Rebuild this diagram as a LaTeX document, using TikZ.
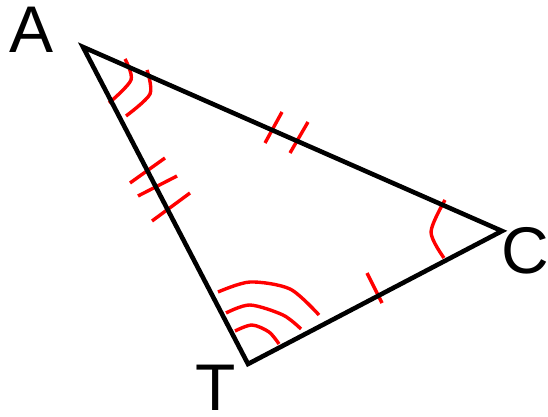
\documentclass[tikz,border=0pt]{standalone}
\usepackage{fontspec}
\setmainfont{Liberation Sans}
\begin{document}
\begin{tikzpicture}[x=1pt,y=-1pt,
  edge/.style={draw=black,line width=4.6pt,line join=miter},
  redmark/.style={draw=red,line width=3.4pt},
  lbl/.style={inner sep=0pt,anchor=base,font=\fontsize{66}{66}\selectfont}]
\useasboundingbox (0,0) rectangle (548,417);
\coordinate (A) at (83,47);
\coordinate (C) at (502,231);
\coordinate (T) at (248,364);
% angle marks
\draw[redmark] plot[smooth] coordinates {(125,59) (131,80) (109,103)};
\draw[redmark] plot[smooth] coordinates {(147,70) (150,94) (126,116)};
\draw[redmark] plot[smooth] coordinates {(445,200) (431,232) (444,258)};
\draw[redmark] plot[smooth] coordinates {(235,331) (252,325) (269,332) (279,344)};
\draw[redmark] plot[smooth] coordinates {(226,313) (250,305) (283,315) (301,329)};
\draw[redmark] plot[smooth] coordinates {(218,292) (250,282) (290,289) (319,315)};
% equal-length ticks
\draw[redmark] (130,183) -- (165,158);
\draw[redmark] (138,196) -- (177,176);
\draw[redmark] (152,221) -- (190,193);
\draw[redmark] (265,143) -- (282,112);
\draw[redmark] (290,153) -- (308,122);
\draw[redmark] (367,273) -- (382,303);
% triangle
\draw[edge] (A) -- (C) -- (T) -- cycle;
% labels
\node[lbl] (la) at (31.5,53) {A};
\node[lbl] (lc) at (525.5,273) {C};
\node[lbl] (lt) at (215.5,410) {T};
\end{tikzpicture}
\end{document}
